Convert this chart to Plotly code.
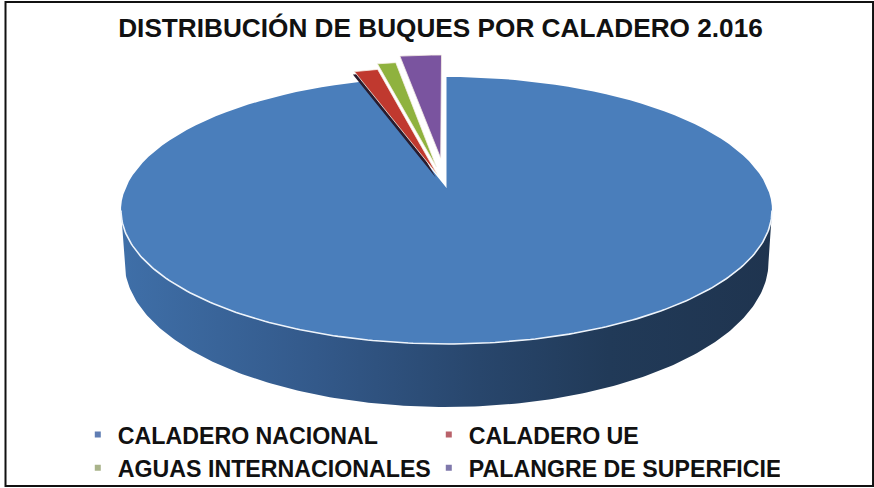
import numpy as np
import plotly.graph_objects as go

categories = ["CALADERO NACIONAL", "CALADERO UE", "AGUAS INTERNACIONALES", "PALANGRE DE SUPERFICIE"]
values = [95.0, 1.4, 1.1, 2.5]
explode = [0.0, 0.11, 0.17, 0.24]
colors = ["#4a7ebb", "#c0392f", "#8fb23e", "#7a549f"]
legend_colors = ["#5f7db3", "#b9626a", "#a9b38a", "#7f78ab"]

CX, CY, RX, RY = 446.5, 210.5, 325.5, 133.5
K = 22.5 / RY
BOT_CY, BOT_RY, BOT_RX = 262.0, 145.0, 322.0


def project(u, v):
    d = 1 + K * v
    return CX + RX * u * np.sqrt(1 - K * K) / d, CY - RY * (v + K) / d


def wedge(start, end, exp):
    mid = np.radians((start + end) / 2)
    t = np.radians(np.linspace(start, end, 120))
    ox, oy = exp * np.sin(mid), exp * np.cos(mid)
    u = np.r_[ox, ox + np.sin(t), ox]
    v = np.r_[oy, oy + np.cos(t), oy]
    return project(u, v)


fig = go.Figure()

# side wall of the disc
t = np.linspace(0, np.pi, 200)
top_x, top_y = CX + RX * np.cos(t), CY + RY * np.sin(t)
bot_x, bot_y = CX + BOT_RX * np.cos(t), BOT_CY + BOT_RY * np.sin(t)
fig.add_trace(go.Scatter(
    x=np.r_[top_x, bot_x[::-1], top_x[0]], y=np.r_[top_y, bot_y[::-1], top_y[0]],
    mode="lines", fill="toself", line=dict(width=0), showlegend=False, hoverinfo="skip",
    fillgradient=dict(type="horizontal", colorscale=[
        [0, "#3f6fa8"], [0.3, "#33598a"], [0.55, "#28466c"], [0.75, "#213a58"], [1, "#1f344f"]]),
))

# top faces, from the values (clockwise from twelve o'clock)
total = sum(values)
angle = 0.0
for i, (name, val, exp, col) in enumerate(zip(categories, values, explode, colors)):
    span = val / total * 360
    x, y = wedge(angle, angle + span, exp)
    if i == 1:
        fig.add_trace(go.Scatter(x=x - 1.5, y=y + 3, mode="lines", fill="toself",
                                 fillcolor="#2a1c2e", line=dict(width=0), showlegend=False, hoverinfo="skip"))
    fig.add_trace(go.Scatter(x=x, y=y, mode="lines", fill="toself", fillcolor=col,
                             line=dict(width=0.8 if exp > 0 else 0, color="#f6efe6"),
                             showlegend=False, hoverinfo="skip"))
    angle += span

# white rim at the front
fig.add_trace(go.Scatter(x=top_x, y=top_y, mode="lines", line=dict(color="#eef4fb", width=1.6),
                         showlegend=False, hoverinfo="skip"))

# legend
for name, col in zip(categories, legend_colors):
    fig.add_trace(go.Scatter(x=[None], y=[None], mode="markers", name=name,
                             marker=dict(symbol="square", size=6, color=col)))

fig.update_layout(
    width=874, height=488, margin=dict(l=0, r=0, t=0, b=0, autoexpand=False),
    paper_bgcolor="white", plot_bgcolor="white",
    xaxis=dict(range=[0, 874], visible=False, fixedrange=True),
    yaxis=dict(range=[488, 0], visible=False, fixedrange=True),
    title=dict(text="<b>DISTRIBUCIÓN DE BUQUES POR CALADERO 2.016</b>", x=0.504, xanchor="center",
               y=0.943, yanchor="middle", font=dict(family="Liberation Sans", size=26.2, color="#111111")),
    legend=dict(orientation="h", x=0.089, xanchor="left", y=-0.004, yanchor="bottom",
                entrywidth=306, entrywidthmode="pixels", itemwidth=30, tracegroupgap=0, itemsizing="trace",
                font=dict(family="Liberation Sans", size=23.2, color="#111111", weight="bold"),
                bgcolor="rgba(0,0,0,0)"),
    shapes=[dict(type="rect", xref="paper", yref="paper", x0=0.0063, x1=0.9989, y0=0.004, y1=0.996,
                 line=dict(color="#111111", width=2))],
)
fig.write_html("out.html", config=dict(displayModeBar=False), post_script="document.body.style.margin='0';")
